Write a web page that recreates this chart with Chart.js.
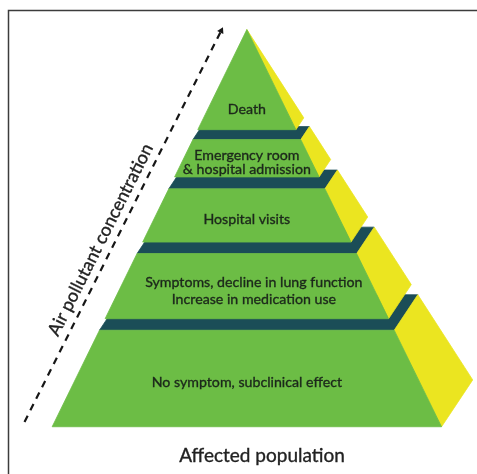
<!DOCTYPE html>
<html>
<head>
<meta charset="utf-8">
<script src="https://cdn.jsdelivr.net/npm/chart.js@4.4.1/dist/chart.umd.min.js"></script>
<style>
  html, body { margin: 0; padding: 0; background: #fff; }
</style>
</head>
<body>
<canvas id="pyramid" width="477" height="474"></canvas>
<script>
// tiers, from the apex down
const tierLabels = [
  ['Death'],
  ['Emergency room', '& hospital admission'],
  ['Hospital visits'],
  ['Symptoms, decline in lung function', 'Increase in medication use'],
  ['No symptom, subclinical effect']
];
// height of each tier's front face (0 = base, 100 = apex)
const tierTop    = [100, 72.3, 59.9, 43.6, 24.3];
const tierBottom = [74.8, 62.9, 46.5, 27.2, 0];

const xTitle = 'Affected population';
const yTitle = 'Air pollutant concentration';
// dashed arrow: tail -> head
const arrowX = [-57.1, -6.6];
const arrowY = [1.2, 99.7];

// ---- look ----
const GREEN = '#6cbd45';
const YELLOW = '#ebe520';
const TEAL = '#1b4d57';
const INK = '#1c281b';
const HALF_BASE = 50;
const DEPTH = [0.08, 0.118];   // receding edge per unit of width
const LINE_GAP = [0, 14, 0, 17, 0];
const SHIFT = [0, 0, 0, 1.8, 0];

const halfW = lv => HALF_BASE * (1 - lv / 100);
const back = (p, lv) => ({ x: p.x + 2 * halfW(lv) * DEPTH[0], y: p.y + 2 * halfW(lv) * DEPTH[1] });

function face(points, color){
  return {
    data: [...points, points[0]],
    backgroundColor: color,
    borderColor: color,
    borderWidth: 0.8,
    fill: 'shape',
    pointRadius: 0,
    tension: 0
  };
}

// painter's order: base tier first, each tier = top face, side, front
const faces = [];
for (let i = tierLabels.length - 1; i >= 0; i--) {
  const top = tierTop[i], bot = tierBottom[i];
  const flt = { x: -halfW(top), y: top }, frt = { x: halfW(top), y: top };
  const flb = { x: -halfW(bot), y: bot }, frb = { x: halfW(bot), y: bot };
  if (halfW(top) > 0) faces.push(face([flt, frt, back(frt, top), back(flt, top)], TEAL));
  faces.push(face([frt, frb, back(frb, bot), back(frt, top)], YELLOW));
  faces.push(face([flt, frt, frb, flb], GREEN));
}
faces.forEach((d, i) => { d.order = faces.length - i + 1; });

function arrowAngle(chart){
  const xs = chart.scales.x, ys = chart.scales.y;
  const dx = xs.getPixelForValue(arrowX[1]) - xs.getPixelForValue(arrowX[0]);
  const dy = ys.getPixelForValue(arrowY[1]) - ys.getPixelForValue(arrowY[0]);
  return Math.atan2(dy, dx);
}

const arrow = {
  data: [{ x: arrowX[0], y: arrowY[0] }, { x: arrowX[1], y: arrowY[1] }],
  borderColor: '#161616',
  borderWidth: 2.2,
  borderDash: [7, 6],
  fill: false,
  pointRadius: [0, 4],
  pointStyle: 'triangle',
  pointBackgroundColor: '#161616',
  pointBorderWidth: 0,
  rotation: c => arrowAngle(c.chart) * 180 / Math.PI + 90,
  order: 0
};

const frame = {
  id: 'frame',
  beforeDraw(chart){
    const { ctx, width, height } = chart;
    ctx.save();
    ctx.fillStyle = '#fff';
    ctx.fillRect(0, 0, width, height);
    ctx.strokeStyle = '#3c3c3c';
    ctx.lineWidth = 1.5;
    ctx.beginPath();
    ctx.moveTo(8.5, height);
    ctx.lineTo(8.5, 10.5);
    ctx.lineTo(width, 10.5);
    ctx.stroke();
    ctx.restore();
  }
};

function boldText(ctx, t, x, y){
  ctx.fillText(t, x, y);
  ctx.strokeText(t, x, y);
}

const labels = {
  id: 'labels',
  afterDatasetsDraw(chart){
    const { ctx, scales: { x, y } } = chart;
    ctx.save();
    ctx.fillStyle = INK;
    ctx.strokeStyle = INK;
    ctx.lineWidth = 0.35;
    ctx.textAlign = 'center';
    ctx.textBaseline = 'middle';
    ctx.font = '14.2px Lato';
    tierLabels.forEach((lines, i) => {
      const lv = i === 0 ? tierBottom[i] + 5.2 : (tierTop[i] + tierBottom[i]) / 2 - 1.1;
      const cx = x.getPixelForValue(SHIFT[i]);
      const cy = y.getPixelForValue(lv) - (lines.length - 1) * LINE_GAP[i] / 2;
      lines.forEach((t, k) => boldText(ctx, t, cx, cy + k * LINE_GAP[i]));
    });

    ctx.fillStyle = '#222';
    ctx.strokeStyle = '#222';
    ctx.font = '19px Lato';
    boldText(ctx, xTitle, x.getPixelForValue(3.9), y.getPixelForValue(-7.4));

    // title along the arrow
    const mx = (x.getPixelForValue(arrowX[0]) + x.getPixelForValue(arrowX[1])) / 2;
    const my = (y.getPixelForValue(arrowY[0]) + y.getPixelForValue(arrowY[1])) / 2;
    ctx.translate(mx, my);
    ctx.rotate(arrowAngle(chart));
    ctx.textBaseline = 'alphabetic';
    ctx.font = '18px Lato';
    boldText(ctx, yTitle, -22, -8);
    ctx.restore();
  }
};

new Chart(document.getElementById('pyramid'), {
  type: 'line',
  data: { datasets: [...faces, arrow] },
  options: {
    responsive: false,
    devicePixelRatio: 1,
    animation: false,
    events: [],
    layout: { padding: 0 },
    scales: {
      x: { type: 'linear', min: -62.37, max: 58.08, display: false },
      y: { type: 'linear', min: -10.89, max: 106.44, display: false }
    },
    plugins: { legend: { display: false }, tooltip: { enabled: false } }
  },
  plugins: [frame, labels]
});
</script>
</body>
</html>
